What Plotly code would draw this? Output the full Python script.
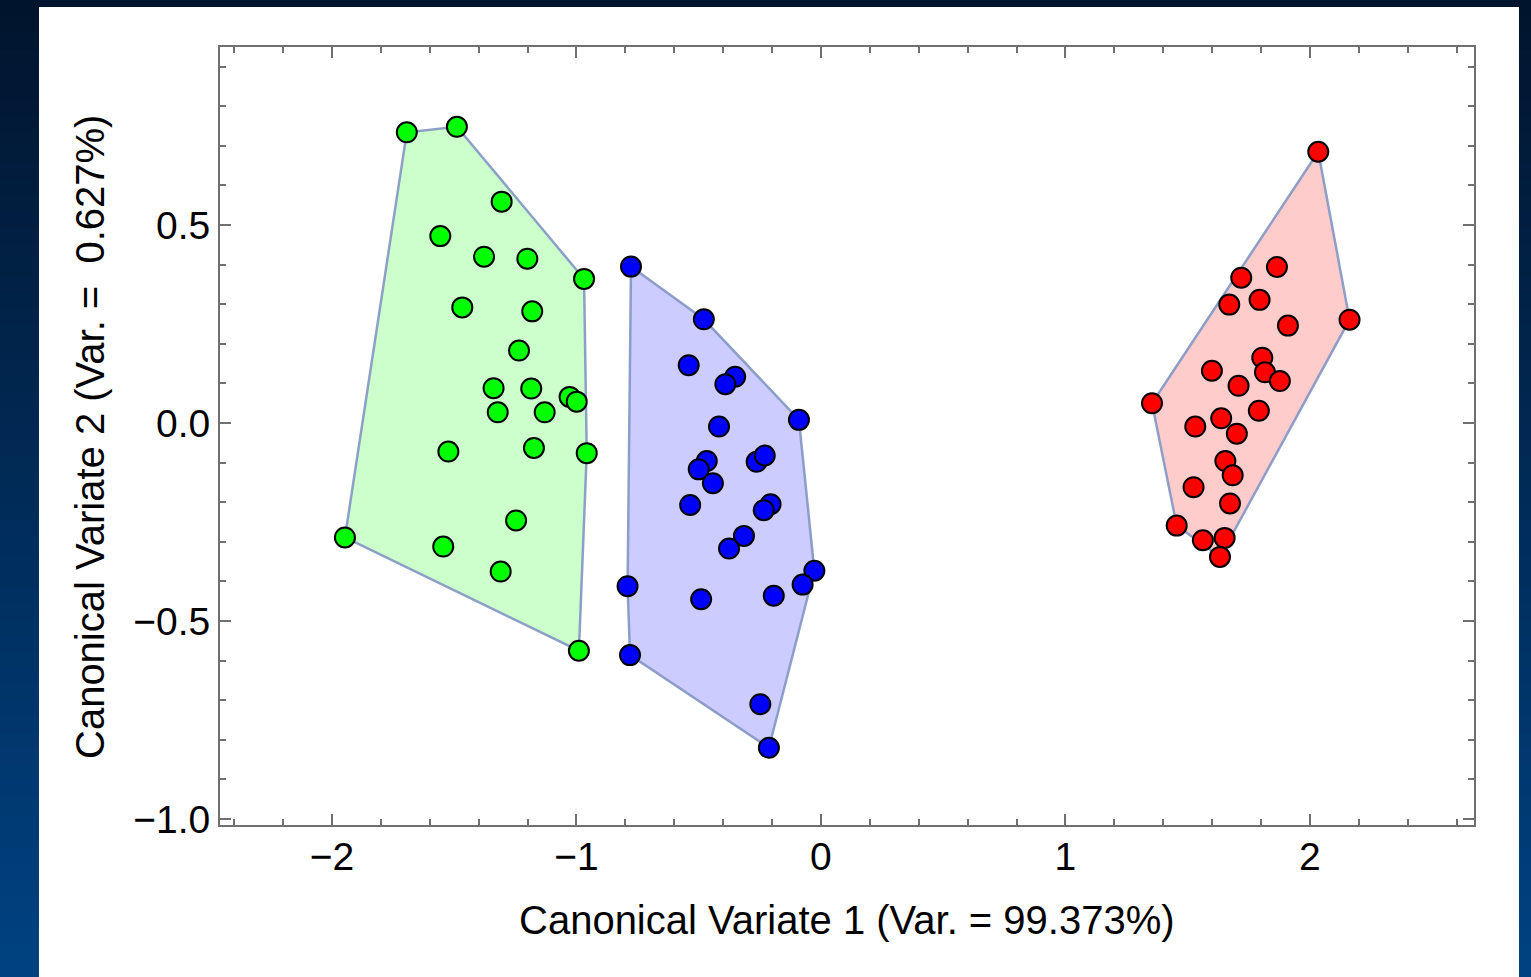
import plotly.graph_objects as go

# Canonical variate scores per group
green_cv1 = [-1.694, -1.489, -1.306, -1.557, -1.378, -1.201, -0.969, -1.467, -1.181, -1.235,
             -1.339, -1.185, -1.028, -0.999, -1.322, -1.130, -1.524, -1.174, -0.958, -1.247,
             -1.947, -1.545, -1.310, -0.990]
green_cv2 = [0.734, 0.748, 0.559, 0.472, 0.420, 0.415, 0.364, 0.292, 0.282, 0.183,
             0.088, 0.087, 0.066, 0.054, 0.027, 0.027, -0.072, -0.063, -0.076, -0.246,
             -0.289, -0.312, -0.375, -0.575]

blue_cv1 = [-0.777, -0.479, -0.541, -0.351, -0.391, -0.090, -0.417, -0.467, -0.500, -0.442,
            -0.263, -0.230, -0.535, -0.206, -0.234, -0.315, -0.376, -0.027, -0.075, -0.791,
            -0.490, -0.193, -0.781, -0.248, -0.213]
blue_cv2 = [0.395, 0.262, 0.146, 0.117, 0.098, 0.008, -0.009, -0.096, -0.117, -0.152,
            -0.098, -0.082, -0.207, -0.205, -0.220, -0.285, -0.317, -0.373, -0.408, -0.412,
            -0.445, -0.436, -0.586, -0.710, -0.820]

red_cv1 = [2.034, 1.865, 1.719, 1.794, 1.670, 2.162, 1.910, 1.805, 1.816, 1.599,
           1.877, 1.708, 1.354, 1.791, 1.531, 1.637, 1.701, 1.654, 1.684, 1.524,
           1.673, 1.455, 1.562, 1.651, 1.632]
red_cv2 = [0.685, 0.394, 0.367, 0.311, 0.299, 0.261, 0.246, 0.165, 0.128, 0.132,
           0.106, 0.094, 0.050, 0.031, -0.009, 0.012, -0.027, -0.096, -0.132, -0.162,
           -0.203, -0.259, -0.296, -0.290, -0.338]

x_ticks = [-2, -1, 0, 1, 2]
y_ticks = [-1.0, -0.5, 0.0, 0.5]
x_title = "Canonical Variate 1 (Var. = 99.373%)"
y_title = "Canonical Variate 2 (Var. =  0.627%)"

groups = [
    (green_cv1, green_cv2, "#00ff00", "#ccffcc"),
    (blue_cv1, blue_cv2, "#0000ff", "#ccccff"),
    (red_cv1, red_cv2, "#ff0000", "#ffcccc"),
]


def convex_hull(xs, ys):
    pts = sorted(set(zip(xs, ys)))

    def cross(o, a, b):
        return (a[0] - o[0]) * (b[1] - o[1]) - (a[1] - o[1]) * (b[0] - o[0])

    lower, upper = [], []
    for p in pts:
        while len(lower) >= 2 and cross(lower[-2], lower[-1], p) <= 0:
            lower.pop()
        lower.append(p)
    for p in reversed(pts):
        while len(upper) >= 2 and cross(upper[-2], upper[-1], p) <= 0:
            upper.pop()
        upper.append(p)
    hull = lower[:-1] + upper[:-1]
    hull.append(hull[0])
    return [p[0] for p in hull], [p[1] for p in hull]


fig = go.Figure()

for xs, ys, mcol, fcol in groups:
    hx, hy = convex_hull(xs, ys)
    fig.add_trace(go.Scatter(
        x=hx, y=hy, mode="lines", fill="toself", fillcolor=fcol,
        line=dict(color="rgba(130,150,195,0.9)", width=2.5),
        hoverinfo="skip", showlegend=False,
    ))

for xs, ys, mcol, fcol in groups:
    fig.add_trace(go.Scatter(
        x=xs, y=ys, mode="markers",
        marker=dict(size=20, color=mcol, line=dict(color="black", width=2)),
        showlegend=False,
    ))

# figure geometry (pixels)
W, H = 1531, 977
L, R, T, B = 220, 1474, 47, 825
pw, ph = R - L, B - T


def px(X):
    return (X - L) / pw


def py(Y):
    return (B - Y) / ph


# dark-to-blue vertical backdrop
shapes = []
top_rgb = (1, 20, 45)
bot_rgb = (0, 66, 130)
n = 60
for i in range(n):
    t = (i + 0.5) / n
    c = tuple(int(round(top_rgb[k] + (bot_rgb[k] - top_rgb[k]) * t)) for k in range(3))
    y0 = H * i / n
    y1 = H * (i + 1) / n + 1
    shapes.append(dict(type="rect", xref="paper", yref="paper", layer="below",
                       x0=px(0), x1=px(W), y0=py(y0), y1=py(y1),
                       fillcolor="rgb(%d,%d,%d)" % c, line=dict(width=0)))
# white panel
shapes.append(dict(type="rect", xref="paper", yref="paper", layer="below",
                   x0=px(39), x1=px(1519), y0=py(7), y1=py(H + 2),
                   fillcolor="white", line=dict(width=0)))

FONT = "Liberation Sans, Arial, sans-serif"
axis_common = dict(
    showline=True, linecolor="#707070", linewidth=2, mirror="allticks",
    ticks="inside", ticklen=11, tickwidth=2, tickcolor="#707070",
    showgrid=False, zeroline=False,
    tickfont=dict(family=FONT, size=39, color="black"),
)

fig.update_xaxes(
    range=[-2.458, 2.671], tickvals=x_ticks,
    ticktext=["\u22122", "\u22121", "0", "1", "2"],
    ticklabelstandoff=-4,
    minor=dict(dtick=0.2, tick0=0, ticks="inside", ticklen=6, tickwidth=1.6, tickcolor="#707070"),
    **axis_common,
)
fig.update_yaxes(
    range=[-1.015, 0.9495], tickvals=y_ticks,
    ticktext=["\u22121.0", "\u22120.5", "0.0", "0.5"],
    minor=dict(dtick=0.1, tick0=0, ticks="inside", ticklen=6, tickwidth=1.6, tickcolor="#707070"),
    **axis_common,
)

fig.update_layout(
    width=W, height=H,
    margin=dict(l=L, r=W - R, t=T, b=H - B, autoexpand=False),
    paper_bgcolor="rgb(1,30,65)", plot_bgcolor="white",
    shapes=shapes,
    annotations=[
        dict(text=x_title, xref="paper", yref="paper", x=0.5, y=py(920),
             xanchor="center", yanchor="middle", showarrow=False,
             font=dict(family=FONT, size=40, color="black")),
        dict(text=y_title, xref="paper", yref="paper", x=px(90), y=py(437),
             xanchor="center", yanchor="middle", showarrow=False, textangle=-90,
             font=dict(family=FONT, size=40, color="black")),
    ],
)

fig.write_html("out.html")
